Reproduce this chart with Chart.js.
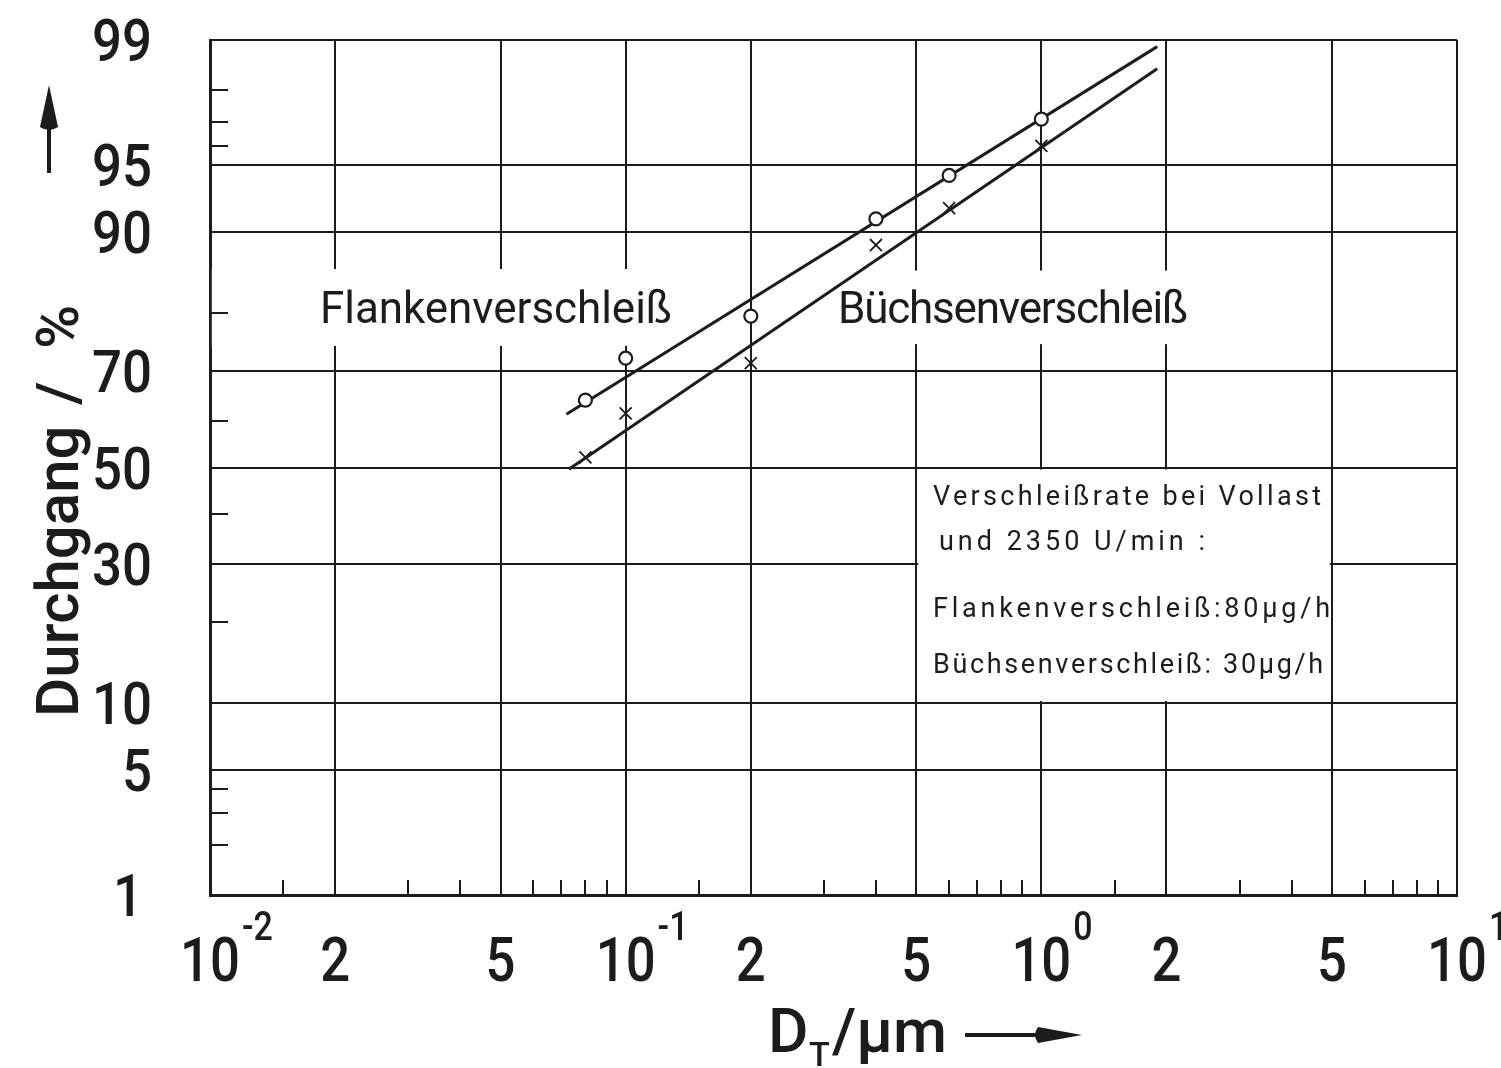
<!DOCTYPE html>
<html>
<head>
<meta charset="utf-8">
<script src="https://cdn.jsdelivr.net/npm/chart.js@4.4.0/dist/chart.umd.min.js"></script>
<style>
  html, body { margin: 0; padding: 0; background: #fff; }
</style>
</head>
<body>
<canvas id="chart" width="1501" height="1068"></canvas>
<script>
/* Durchgang vs. D_T — log / probability plot */

// --- Data ---

const flankenX = [0.08, 0.1, 0.2, 0.4, 0.6, 1.0];
const flankenY = [64.3, 72.4, 79.5, 91.2, 94.4, 97.1];
const buechsenX = [0.08, 0.1, 0.2, 0.4, 0.6, 1.0];
const buechsenY = [52.2, 61.6, 71.5, 88.7, 92.1, 96.0];

// fitted straight lines (end points)
const flankenFitX = [0.072, 1.9];
const flankenFitY = [61.4, 98.9];
const buechsenFitX = [0.073, 1.9];
const buechsenFitY = [49.6, 98.5];

const xMajorTicks = [0.01, 0.02, 0.05, 0.1, 0.2, 0.5, 1, 2, 5, 10];
const xTickBase = ['10', '2', '5', '10', '2', '5', '10', '2', '5', '10'];
const xTickExp = ['-2', '', '', '-1', '', '', '0', '', '', '1'];
const xMinorTicks = [0.015, 0.03, 0.04, 0.06, 0.07, 0.08, 0.09,
                     0.15, 0.3, 0.4, 0.6, 0.7, 0.8, 0.9,
                     1.5, 3, 4, 6, 7, 8, 9];

const yMajorTicks = [1, 5, 10, 30, 50, 70, 90, 95, 99];
const yTickLabels = ['1', '5', '10', '30', '50', '70', '90', '95', '99'];
const yMinorTicks = [2, 3, 4, 20, 40, 60, 80, 96, 97, 98];

// --- Helpers ---

const INK = '#1c1c1c';

function probit(p) {
    const a = [-3.969683028665376e+01, 2.209460984245205e+02, -2.759285104469687e+02,
               1.383577518672690e+02, -3.066479806614716e+01, 2.506628277459239e+00];
    const b = [-5.447609879822406e+01, 1.615858368580409e+02, -1.556989798598866e+02,
               6.680131188771972e+01, -1.328068155288572e+01];
    const c = [-7.784894002430293e-03, -3.223964580411365e-01, -2.400758277161838e+00,
               -2.549732539343734e+00, 4.374664141464968e+00, 2.938163982698783e+00];
    const d = [7.784695709041462e-03, 3.224671290700398e-01, 2.445134137142996e+00,
               3.754408661907416e+00];
    const lo = 0.02425;
    let q, r;
    if (p < lo) {
        q = Math.sqrt(-2 * Math.log(p));
        return (((((c[0]*q+c[1])*q+c[2])*q+c[3])*q+c[4])*q+c[5]) / ((((d[0]*q+d[1])*q+d[2])*q+d[3])*q+1);
    }
    if (p > 1 - lo) {
        q = Math.sqrt(-2 * Math.log(1 - p));
        return -(((((c[0]*q+c[1])*q+c[2])*q+c[3])*q+c[4])*q+c[5]) / ((((d[0]*q+d[1])*q+d[2])*q+d[3])*q+1);
    }
    q = p - 0.5; r = q * q;
    return (((((a[0]*r+a[1])*r+a[2])*r+a[3])*r+a[4])*r+a[5])*q / (((((b[0]*r+b[1])*r+b[2])*r+b[3])*r+b[4])*r+1);
}

function normCdf(z) {
    const t = 1 / (1 + 0.3275911 * Math.abs(z) / Math.SQRT2);
    const y = 1 - (((((1.061405429*t - 1.453152027)*t) + 1.421413741)*t - 0.284496736)*t + 0.254829592)*t
              * Math.exp(-z * z / 2);
    return z >= 0 ? (1 + y) / 2 : (1 - y) / 2;
}

// probability (normal quantile) axis, values in percent
class ProbitScale extends Chart.Scale {
    determineDataLimits() {
        this.min = this.options.min;
        this.max = this.options.max;
    }
    buildTicks() {
        return yMajorTicks.map(v => ({ value: v }));
    }
    getLabelForValue(v) {
        return String(v);
    }
    configure() {
        super.configure();
        this._zStart = probit(this.min / 100);
        this._zRange = probit(this.max / 100) - this._zStart;
    }
    getPixelForValue(v) {
        if (v == null || isNaN(v)) return NaN;
        return this.getPixelForDecimal((probit(v / 100) - this._zStart) / this._zRange);
    }
    getValueForPixel(px) {
        return 100 * normCdf(this._zStart + this.getDecimalForPixel(px) * this._zRange);
    }
}
ProbitScale.id = 'probit';
ProbitScale.defaults = {};
Chart.register(ProbitScale);

function pts(xs, ys) {
    return xs.map((x, i) => ({ x, y: ys[i] }));
}

function spacedText(ctx, text, x, y, width) {
    ctx.letterSpacing = '0px';
    const w = ctx.measureText(text).width;
    const extra = (width - w) / (text.length - 1);
    ctx.letterSpacing = extra.toFixed(2) + 'px';
    ctx.textAlign = 'left';
    ctx.fillText(text, x, y);
    ctx.letterSpacing = '0px';
}

function squeezedText(ctx, text, x, y, sx, align) {
    ctx.save();
    ctx.translate(x, y);
    ctx.scale(sx, 1);
    ctx.textAlign = align;
    ctx.fillText(text, 0, 0);
    ctx.restore();
}

function arrowHead(ctx, tipX, tipY, dirX, dirY, len, half) {
    const bx = tipX - dirX * len, by = tipY - dirY * len;
    const nx = -dirY, ny = dirX;
    ctx.beginPath();
    ctx.moveTo(tipX, tipY);
    ctx.lineTo(bx + nx * half, by + ny * half);
    ctx.quadraticCurveTo(bx - dirX * 6, by - dirY * 6, bx - nx * half, by - ny * half);
    ctx.closePath();
    ctx.fill();
}

// --- Decorations: masks, minor ticks, labels ---

// white patches behind the text (in data units)
const masks = [
    { x: [0.0101, 0.151], y: [74.6, 86.0], inset: 0 },
    { x: [0.31, 2.4], y: [74.9, 85.8], inset: 0 },
    { x: [0.5, 5], y: [10, 50], inset: 2 },
];
const yLabelRight = [143, 152, 152, 152, 152, 152, 152, 152, 152];

const decor = {
    id: 'decor',
    beforeDatasetsDraw(chart) {
        const { ctx, chartArea: a } = chart;
        const x = chart.scales.x, y = chart.scales.y;
        ctx.save();
        ctx.fillStyle = '#fff';
        masks.forEach(m => {
            const x0 = x.getPixelForValue(m.x[0]) + m.inset;
            const x1 = x.getPixelForValue(m.x[1]) - m.inset;
            const y0 = y.getPixelForValue(m.y[1]) + m.inset;
            const y1 = y.getPixelForValue(m.y[0]) - m.inset;
            ctx.fillRect(x0, y0, x1 - x0, y1 - y0);
        });

        ctx.strokeStyle = INK;
        ctx.lineWidth = 2;
        ctx.beginPath();
        yMinorTicks.forEach(v => {
            const py = Math.round(y.getPixelForValue(v));
            ctx.moveTo(a.left, py);
            ctx.lineTo(a.left + 18, py);
        });
        xMinorTicks.forEach(v => {
            const px = Math.round(x.getPixelForValue(v));
            ctx.moveTo(px, a.bottom);
            ctx.lineTo(px, a.bottom - 15);
        });
        ctx.stroke();
        ctx.restore();
    },
    afterDraw(chart) {
        const { ctx } = chart;
        const x = chart.scales.x, y = chart.scales.y;
        ctx.save();
        ctx.fillStyle = INK;
        ctx.textBaseline = 'alphabetic';

        // y tick labels
        ctx.font = '500 60px Roboto';
        yMajorTicks.forEach((v, i) => {
            squeezedText(ctx, yTickLabels[i], yLabelRight[i], y.getPixelForValue(v) + 21, 0.88, 'right');
        });

        // x tick labels with exponents
        xMajorTicks.forEach((v, i) => {
            const px = x.getPixelForValue(v);
            ctx.font = '500 62px Roboto';
            squeezedText(ctx, xTickBase[i], px, 981, 0.85, 'center');
            if (xTickExp[i]) {
                const w = ctx.measureText(xTickBase[i]).width * 0.85;
                ctx.font = '500 40px Roboto';
                squeezedText(ctx, xTickExp[i], px + w / 2 + 2, 940, 0.85, 'left');
            }
        });

        // x title
        ctx.textAlign = 'left';
        ctx.font = '500 62px Roboto';
        ctx.fillText('D', 768, 1052);
        ctx.font = '500 34px Roboto';
        ctx.fillText('T', 809, 1066);
        ctx.font = '500 62px Roboto';
        ctx.fillText('/µm', 832, 1052);
        ctx.strokeStyle = INK;
        ctx.lineWidth = 4;
        ctx.beginPath();
        ctx.moveTo(965, 1035);
        ctx.lineTo(1045, 1035);
        ctx.stroke();
        arrowHead(ctx, 1082, 1035, 1, 0, 44, 8);

        // y title (rotated)
        ctx.save();
        ctx.translate(78, 717);
        ctx.rotate(-Math.PI / 2);
        ctx.font = '500 60px Roboto';
        ctx.fillText('Durchgang', 0, 0);
        ctx.fillText('/', 312, 0);
        ctx.fillText('%', 368, 0);
        ctx.restore();
        ctx.beginPath();
        ctx.moveTo(49, 173);
        ctx.lineTo(49, 120);
        ctx.stroke();
        arrowHead(ctx, 49, 85, 0, -1, 42, 9);

        // curve labels
        ctx.font = '400 44px Roboto';
        spacedText(ctx, 'Flankenverschleiß', 320, 323, 352);
        spacedText(ctx, 'Büchsenverschleiß', 838, 323, 350);

        // note box
        ctx.font = '400 27px Roboto';
        spacedText(ctx, 'Verschleißrate bei Vollast', 933, 505, 388);
        spacedText(ctx, 'und 2350 U/min :', 939, 550, 266);
        spacedText(ctx, 'Flankenverschleiß:80µg/h', 933, 617, 397);
        spacedText(ctx, 'Büchsenverschleiß: 30µg/h', 933, 673, 390);

        ctx.restore();
    }
};

// --- Chart ---

new Chart(document.getElementById('chart'), {
    type: 'line',
    data: {
        datasets: [
            {
                label: 'Flankenverschleiß',
                data: pts(flankenX, flankenY),
                showLine: false,
                pointStyle: 'circle',
                pointRadius: 6.5,
                pointBackgroundColor: '#fff',
                pointBorderColor: INK,
                pointBorderWidth: 2.2,
                order: 0,
            },
            {
                label: 'Büchsenverschleiß',
                data: pts(buechsenX, buechsenY),
                showLine: false,
                pointStyle: 'crossRot',
                pointRadius: 8.5,
                pointBorderColor: INK,
                pointBorderWidth: 1.8,
                order: 0,
            },
            {
                label: 'Flanken fit',
                data: pts(flankenFitX, flankenFitY),
                borderColor: INK,
                borderWidth: 3,
                pointRadius: 0,
                order: 1,
            },
            {
                label: 'Büchsen fit',
                data: pts(buechsenFitX, buechsenFitY),
                borderColor: INK,
                borderWidth: 3,
                pointRadius: 0,
                order: 1,
            },
        ]
    },
    options: {
        responsive: false,
        animation: false,
        devicePixelRatio: 1,
        layout: { padding: { left: 210, top: 40, right: 44, bottom: 173 } },
        plugins: {
            legend: { display: false },
            tooltip: { enabled: false },
        },
        scales: {
            x: {
                type: 'logarithmic',
                min: 0.01,
                max: 10,
                afterBuildTicks: s => { s.ticks = xMajorTicks.map(v => ({ value: v })); },
                ticks: { display: false },
                grid: { color: INK, lineWidth: 2, drawTicks: false },
                border: { color: INK, width: 3 },
            },
            y: {
                type: 'probit',
                min: 1,
                max: 99,
                ticks: { display: false },
                grid: { color: INK, lineWidth: 2, drawTicks: false },
                border: { color: INK, width: 3 },
            }
        }
    },
    plugins: [decor]
});
</script>
</body>
</html>
